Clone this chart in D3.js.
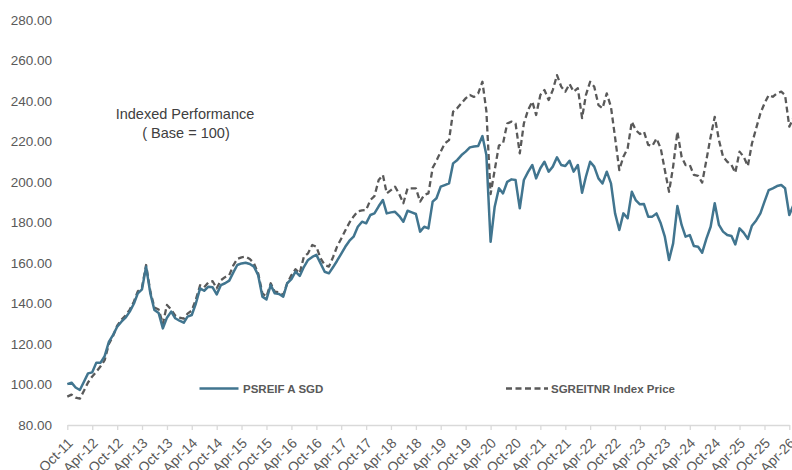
<!DOCTYPE html>
<html>
<head>
<meta charset="utf-8">
<script src="https://cdn.jsdelivr.net/npm/d3@7"></script>
<style>
  body { margin: 0; background: #fff; }
  svg { display: block; font-family: "Liberation Sans", Arial, sans-serif; }
</style>
</head>
<body>
<svg id="chart"></svg>
<script>
// monthly series, first point Oct-2011
var startMonth = "Oct-11";

var psreif = [
  100.2, 100.9, 98.5, 97.3, 101.5, 105.5, 106, 110.8, 110.8, 114,
  121, 124.5, 128.5, 131, 133, 136, 140, 145, 147, 158.2,
  145, 136.8, 135.3, 127.7, 133, 136, 132.7, 131.5, 130.5, 133.5,
  134.3, 140, 147.5, 146.3, 148.3, 148, 144.5, 149.1, 150, 151.3,
  155.5, 159, 159.8, 160.1, 159.5, 158.2, 154, 143.4, 142, 149.1,
  145, 144.7, 143.4, 150, 152, 155.7, 153.6, 158, 161.5, 163,
  164, 159.8, 155.7, 154.9, 158, 161, 164.5, 168, 171, 173,
  177.9, 180.4, 179.6, 183.7, 184.5, 188, 191.1, 184.5, 185, 185.3,
  183.2, 180.4, 185.8, 185, 184.2, 175.5, 177.9, 177.1, 190.3, 192,
  197.7, 198.5, 199.3, 209.2, 210.9, 213.3, 215, 217.1, 217.5, 217.8,
  222.7, 213.3, 170.5, 187.8, 196.9, 194.4, 200.1, 201.3, 201, 187,
  201, 205, 208.4, 201.8, 206.8, 210, 205.1, 207.6, 212.2, 208.4,
  207.9, 210.5, 205.1, 208.4, 194.7, 202.6, 210, 207.6, 201.8, 199.3,
  205.1, 199.3, 184.5, 176.3, 184.5, 182.1, 195.2, 191.1, 189, 189.1,
  182.9, 182.9, 184.5, 179.6, 173, 161.5, 169.7, 188.1, 178.8, 173,
  173.8, 168.4, 168, 165.1, 172, 177.9, 189.5, 178.8, 175.5, 173.8,
  173.3, 169.2, 177.1, 175, 171.9, 178.4, 181, 184.5, 190.3, 196,
  196.9, 198, 198.5, 196.9, 183.7, 188.6
];

var sgreit = [
  94, 95, 93.5, 93, 97, 101, 104, 106.3, 109, 112,
  120, 124, 129, 132, 134, 137, 141, 146, 148, 159,
  146, 138, 137, 130, 139.3, 137, 134, 133, 132.5, 135,
  136.5, 142, 149, 148, 150.5, 151, 147.5, 151.5, 153, 154,
  159, 162, 162.8, 163.1, 162, 159.8, 154.9, 145, 143.4, 150,
  145.8, 145.5, 144.2, 150, 154, 156.9, 154.9, 163.1, 164.8, 168.9,
  168, 162.3, 159, 158.2, 163, 168, 172, 176, 180, 183,
  185.5, 186, 186.2, 191.1, 193, 201, 203.5, 194.4, 196, 197.7,
  194, 189.5, 196.9, 196.9, 196.9, 190.3, 193.6, 194.4, 207, 210.5,
  215, 219, 220.7, 234.7, 236.5, 239, 241.3, 243, 242, 243.8,
  249.5, 235, 194, 205.9, 218, 219, 228.9, 229.8, 228.9, 214.1,
  228.9, 235.6, 239.7, 233.1, 243, 245.4, 240.5, 245.4, 252.8, 247.1,
  244.6, 248.4, 244.6, 246.3, 231.6, 242.9, 249.5, 247.1, 238, 236.4,
  243.8, 237, 222, 205.9, 212.5, 216.5, 229.8, 225.7, 223.7, 224.8,
  218.3, 217.8, 221.5, 216.6, 205.9, 195.2, 207.6, 224.8, 212.5, 208.4,
  208.4, 203.5, 203, 199.7, 210.9, 222.3, 232.2, 220.7, 212.5, 210,
  208.4, 204.6, 215, 212.5, 207.9, 219, 226.5, 233.9, 238.8, 242.9,
  242.1, 243.8, 244.6, 242.9, 227.3, 231.6
];

var tickLabels = [
  "Oct-11", "Apr-12", "Oct-12", "Apr-13", "Oct-13", "Apr-14", "Oct-14", "Apr-15",
  "Oct-15", "Apr-16", "Oct-16", "Apr-17", "Oct-17", "Apr-18", "Oct-18", "Apr-19",
  "Oct-19", "Apr-20", "Oct-20", "Apr-21", "Oct-21", "Apr-22", "Oct-22", "Apr-23",
  "Oct-23", "Apr-24", "Oct-24", "Apr-25", "Oct-25", "Apr-26"
];

var yTicks = [80, 100, 120, 140, 160, 180, 200, 220, 240, 260, 280];
var seriesNames = ["PSREIF A SGD", "SGREITNR Index Price"];

var width = 792;
var height = 470;
var plotLeft = 67.3;
var plotRight = 789.3;
var plotTop = 20;
var plotBottom = 425;

var svg = d3.select("#chart").attr("width", width).attr("height", height);

var parseMonth = d3.timeParse("%b-%y");
var tickDates = tickLabels.map(function (t) { return parseMonth(t); });
var start = parseMonth(startMonth);

var xScale = d3.scaleTime()
  .domain([tickDates[0], tickDates[tickDates.length - 1]])
  .range([plotLeft, plotRight]);

var yScale = d3.scaleLinear().domain([80, 280]).range([plotBottom, plotTop]);

/* x axis */
var xAxis = d3.axisBottom(xScale)
  .tickValues(tickDates)
  .tickFormat(function (d, i) { return tickLabels[i]; })
  .tickSizeInner(5)
  .tickSizeOuter(0);

var gx = svg.append("g")
  .attr("transform", "translate(0," + plotBottom + ")")
  .call(xAxis);
gx.select(".domain").attr("stroke", "#d9d9d9").attr("stroke-width", 1.3);
gx.selectAll(".tick line").attr("stroke", "#d9d9d9").attr("stroke-width", 1.3);
gx.selectAll(".tick text")
  .attr("fill", "#595959")
  .style("font-size", "14px")
  .attr("text-anchor", "end")
  .attr("dy", "0")
  .attr("y", 0)
  .attr("transform", "translate(6,19) rotate(-45)");

/* y axis - labels only */
var yAxis = d3.axisLeft(yScale)
  .tickValues(yTicks)
  .tickFormat(d3.format(".2f"))
  .tickSize(0)
  .tickPadding(0);

var gy = svg.append("g")
  .attr("transform", "translate(52,0)")
  .call(yAxis);
gy.select(".domain").remove();
gy.selectAll(".tick text")
  .attr("fill", "#595959")
  .style("font-size", "13.5px");

/* lines */
var line = function (values) {
  return d3.line()
    .x(function (d, i) { return xScale(d3.timeMonth.offset(start, i)); })
    .y(function (d) { return yScale(d); })(values);
};

svg.append("path")
  .attr("d", line(sgreit))
  .attr("fill", "none")
  .attr("stroke", "#595959")
  .attr("stroke-width", 2.3)
  .attr("stroke-dasharray", "6,3.5")
  .attr("stroke-linejoin", "round");

svg.append("path")
  .attr("d", line(psreif))
  .attr("fill", "none")
  .attr("stroke", "#41758f")
  .attr("stroke-width", 2.5)
  .attr("stroke-linejoin", "round");

/* title note */
var note = svg.append("g").attr("fill", "#404040").style("font-size", "14.5px");
note.append("text").attr("x", 185).attr("y", 119).attr("text-anchor", "middle").text("Indexed Performance");
note.append("text").attr("x", 186).attr("y", 138).attr("text-anchor", "middle").text("( Base = 100)");

/* legend */
var legendY = 388.5;
svg.append("line")
  .attr("x1", 199.5).attr("x2", 238.5).attr("y1", legendY).attr("y2", legendY)
  .attr("stroke", "#41758f").attr("stroke-width", 2.5);
svg.append("text")
  .attr("x", 243).attr("y", legendY + 4.5)
  .attr("fill", "#595959").style("font-size", "11.5px").style("font-weight", "bold")
  .text(seriesNames[0]);

svg.append("line")
  .attr("x1", 506).attr("x2", 548).attr("y1", legendY).attr("y2", legendY)
  .attr("stroke", "#595959").attr("stroke-width", 2.3).attr("stroke-dasharray", "6,3.5");
svg.append("text")
  .attr("x", 551).attr("y", legendY + 4.5)
  .attr("fill", "#595959").style("font-size", "11.5px").style("font-weight", "bold")
  .text(seriesNames[1]);
</script>
</body>
</html>
